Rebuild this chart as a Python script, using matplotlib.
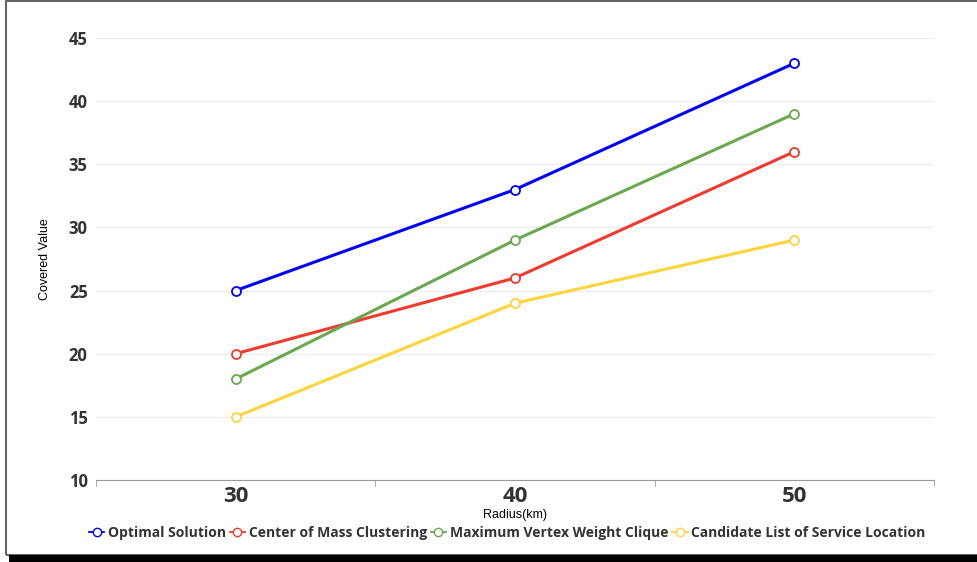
import matplotlib.pyplot as plt
from matplotlib.lines import Line2D
from matplotlib.patches import Rectangle

plt.rcParams['font.family'] = ['Open Sans', 'DejaVu Sans']

# Covered value per search radius for each method
radius = ['30', '40', '50']
optimal = [25, 33, 43]
center_mass = [20, 26, 36]
max_clique = [18, 29, 39]
candidate_list = [15, 24, 29]

series = [
    ('Optimal Solution', optimal, '#0000ff'),
    ('Center of Mass Clustering', center_mass, '#f03a2e'),
    ('Maximum Vertex Weight Clique', max_clique, '#6aa84f'),
    ('Candidate List of Service Location', candidate_list, '#ffd43b'),
]

fig = plt.figure(figsize=(9.77, 5.62), dpi=100)
ax = fig.add_axes([0.0983, 0.1459, 0.8577, 0.7865])

x = range(len(radius))
for name, vals, color in series:
    ax.plot(x, vals, color=color, lw=2.2, marker='o', markersize=6.5,
            markerfacecolor='white', markeredgecolor=color, markeredgewidth=1.3,
            label=name, zorder=3)

ax.set_xlim(-0.5, len(radius) - 0.5)
ax.set_ylim(10, 45)
ax.set_yticks(range(10, 46, 5))
ax.set_xticks(list(x))
ax.set_xticklabels(radius, fontsize=16, fontweight='bold', color='#333333')
ax.set_xticks([-0.5, 0.5, 1.5, 2.5], minor=True)
ax.tick_params(axis='x', which='major', length=0, pad=4)
ax.tick_params(axis='x', which='minor', length=4, color='#999999')
ax.tick_params(axis='y', length=0, pad=6, labelsize=12, labelcolor='#333333')
for lbl in ax.get_yticklabels():
    lbl.set_fontweight('bold')

ax.grid(axis='y', color='#ececec', lw=0.8)
ax.set_axisbelow(True)
for side in ['top', 'right', 'left']:
    ax.spines[side].set_visible(False)
ax.spines['bottom'].set_color('#999999')

ax.set_ylabel('Covered Value', fontsize=9, family='Liberation Sans')
ax.yaxis.set_label_coords(-0.054, 0.5)
ax.set_xlabel('Radius(km)', fontsize=9, family='Liberation Sans')
ax.xaxis.set_label_coords(0.5, -0.079)
ax.xaxis.label.set_va('center')

handles = [Line2D([0], [0], color=c, lw=1.3, marker='o', markersize=6,
                  markerfacecolor='white', markeredgecolor=c) for _, _, c in series]
leg = fig.legend(handles, [s[0] for s in series], loc='center', bbox_to_anchor=(0.519, 0.052),
                 ncol=4, frameon=False, handlelength=1.1, handletextpad=0.25,
                 columnspacing=0.3, prop={'size': 10, 'weight': 'bold'})
for t in leg.get_texts():
    t.set_color('#333333')

# page frame around the chart
fig.patches.append(Rectangle((0.006, 0.012), 1.0, 0.986, transform=fig.transFigure,
                             fill=False, edgecolor='#666666', lw=1.5))
fig.patches.append(Rectangle((0.009, 0.0), 0.991, 0.013, transform=fig.transFigure,
                             color='black', lw=0))

fig.savefig('out.png', dpi=100)
